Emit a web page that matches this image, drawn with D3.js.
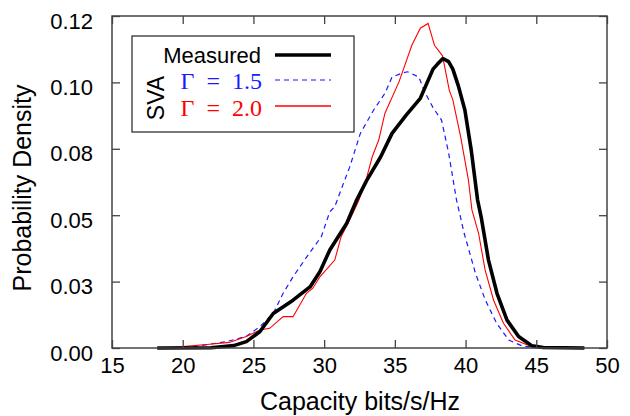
<!DOCTYPE html>
<html>
<head>
<meta charset="utf-8">
<script src="https://cdn.jsdelivr.net/npm/d3@7"></script>
<style>
  body { margin: 0; background: #fff; }
  svg text { font-family: "Liberation Sans", Arial, sans-serif; }
</style>
</head>
<body>
<svg id="chart" width="630" height="416"></svg>
<script>
// tick values + labels
const xTicks = [15, 20, 25, 30, 35, 40, 45, 50];
const yTicks = [0, 0.025, 0.05, 0.075, 0.1, 0.125];
const yTickLabels = ["0.00", "0.03", "0.05", "0.08", "0.10", "0.12"];

// [capacity, density]
const measured = [
  [18.2, 0], [22.0, 0.0001], [23.6, 0.0009], [24.5, 0.0024], [25.45, 0.0061],
  [26.4, 0.013], [27.8, 0.018], [29.0, 0.023], [29.7, 0.0287], [30.4, 0.0369],
  [31.6, 0.047], [32.3, 0.0557], [33.0, 0.063], [34.0, 0.072], [34.8, 0.0808],
  [35.8, 0.0877], [36.8, 0.094], [37.7, 0.105], [38.0, 0.1068], [38.4, 0.109],
  [38.8, 0.1078], [39.1, 0.105], [39.5, 0.0985], [39.95, 0.0896], [40.4, 0.0745],
  [40.85, 0.0557], [41.1, 0.0494], [41.62, 0.0331], [42.22, 0.0206], [42.93, 0.0105],
  [43.75, 0.0043], [44.7, 0.0008], [45.5, 0.0002], [48.4, 0]
];
const svaG15 = [
  [18.2, 0], [20.5, 0.0003], [23.1, 0.0024], [24.5, 0.0044], [25.45, 0.008],
  [26.4, 0.013], [27.1, 0.0206], [27.8, 0.0268], [28.86, 0.035], [29.8, 0.0419],
  [30.4, 0.0513], [30.75, 0.0532], [31.46, 0.0633], [31.8, 0.068], [32.56, 0.0808],
  [33.5, 0.0896], [34.3, 0.0959], [34.8, 0.102], [35.5, 0.1035], [35.9, 0.104],
  [36.7, 0.102], [37.1, 0.0965], [37.7, 0.0905], [38.3, 0.0858], [38.8, 0.0735],
  [39.35, 0.056], [39.9, 0.0432], [40.7, 0.0281], [41.4, 0.018], [42.2, 0.0093],
  [43.05, 0.003], [44.0, 0.0008], [45.0, 0.0001], [48.4, 0]
];
const svaG20 = [
  [18.2, 0], [20.0, 0.0005], [21.9, 0.0014], [23.3, 0.0021], [24.5, 0.0043],
  [25.45, 0.0068], [26.15, 0.0074], [27.1, 0.0118], [27.8, 0.0118], [28.75, 0.0206],
  [29.2, 0.0225], [29.7, 0.0268], [30.75, 0.0331], [31.2, 0.0419], [31.8, 0.0482],
  [32.4, 0.055], [32.9, 0.062], [33.4, 0.072], [33.86, 0.0783], [34.3, 0.0884],
  [35.3, 0.1003], [36.2, 0.114], [36.8, 0.1204], [37.35, 0.1222], [37.8, 0.114],
  [38.37, 0.110], [38.85, 0.097], [39.1, 0.0934], [39.65, 0.0796], [40.2, 0.0633],
  [40.45, 0.052], [40.92, 0.0432], [41.38, 0.0294], [41.98, 0.018], [42.68, 0.0093],
  [43.5, 0.003], [44.7, 0.0005], [48.4, 0]
];

const svg = d3.select("#chart");
const pl = 112, pr = 607, pt = 16, pb = 348;

const x = d3.scaleLinear().domain([15, 50]).range([pl, pr]);
const y = d3.scaleLinear().domain([0, 0.125]).range([pb, pt]);

const line = d3.line().x(d => x(d[0])).y(d => y(d[1]));

// curves first, frame on top
svg.append("path").datum(svaG15)
  .attr("d", line).attr("fill", "none")
  .attr("stroke", "#1a1aff").attr("stroke-width", 1.2)
  .attr("stroke-dasharray", "5,4");
svg.append("path").datum(svaG20)
  .attr("d", line).attr("fill", "none")
  .attr("stroke", "#ff0000").attr("stroke-width", 1.1);
svg.append("path").datum(measured)
  .attr("d", line).attr("fill", "none")
  .attr("stroke", "#000").attr("stroke-width", 3.6)
  .attr("stroke-linejoin", "round");

// axes with inward ticks, mirrored on top/right
const tl = 8;
svg.append("g").attr("class", "xax").attr("transform", `translate(0,${pb})`)
  .call(d3.axisBottom(x).tickValues(xTicks).tickSize(-tl).tickPadding(9).tickFormat(d3.format("d")));
svg.append("g").attr("transform", `translate(0,${pt})`)
  .call(d3.axisTop(x).tickValues(xTicks).tickSize(-tl).tickFormat(""));
svg.append("g").attr("class", "yax").attr("transform", `translate(${pl},0)`)
  .call(d3.axisLeft(y).tickValues(yTicks).tickSize(-tl).tickPadding(19)
    .tickFormat((d, i) => yTickLabels[i]));
svg.append("g").attr("transform", `translate(${pr},0)`)
  .call(d3.axisRight(y).tickValues(yTicks).tickSize(-tl).tickFormat(""));

svg.selectAll(".domain").remove();
svg.selectAll(".tick line").attr("stroke", "#444").attr("stroke-width", 1.3);
svg.selectAll(".tick text").attr("fill", "#000").style("font-size", "22px");
svg.selectAll(".yax .tick text").attr("dy", "0.55em");

svg.append("rect")
  .attr("x", pl).attr("y", pt)
  .attr("width", pr - pl).attr("height", pb - pt)
  .attr("fill", "none").attr("stroke", "#444").attr("stroke-width", 1.5);

// axis titles
svg.append("text")
  .attr("x", 360).attr("y", 410)
  .attr("text-anchor", "middle").style("font-size", "25px")
  .text("Capacity bits/s/Hz");
svg.append("text")
  .attr("transform", "translate(31,188) rotate(-90)")
  .attr("text-anchor", "middle").style("font-size", "25px")
  .text("Probability Density");

// legend
const lg = svg.append("g");
lg.append("rect").attr("x", 132).attr("y", 36).attr("width", 222).attr("height", 96)
  .attr("fill", "#fff").attr("stroke", "#222").attr("stroke-width", 1.2);
lg.append("text").attr("x", 261).attr("y", 62.5).attr("text-anchor", "end")
  .style("font-size", "22px").text("Measured");
lg.append("line").attr("x1", 275).attr("x2", 331).attr("y1", 55).attr("y2", 55)
  .attr("stroke", "#000").attr("stroke-width", 3.6);
lg.append("text").attr("transform", "translate(164,98) rotate(-90)")
  .attr("text-anchor", "middle").style("font-size", "23px").text("SVA");

const mathFont = "'Liberation Serif', 'DejaVu Serif', serif";
lg.append("text").attr("x", 262).attr("y", 89).attr("text-anchor", "end")
  .style("font-family", mathFont).style("font-size", "24px").attr("fill", "#1a1aff")
  .text("Γ\u2002=\u20021.5");
lg.append("line").attr("x1", 275).attr("x2", 331).attr("y1", 80).attr("y2", 80)
  .attr("stroke", "#1a1aff").attr("stroke-width", 1.2).attr("stroke-dasharray", "5,4");
lg.append("text").attr("x", 262).attr("y", 115.7).attr("text-anchor", "end")
  .style("font-family", mathFont).style("font-size", "24px").attr("fill", "#ff0000")
  .text("Γ\u2002=\u20022.0");
lg.append("line").attr("x1", 275).attr("x2", 331).attr("y1", 106).attr("y2", 106)
  .attr("stroke", "#ff0000").attr("stroke-width", 1.3);
</script>
</body>
</html>
